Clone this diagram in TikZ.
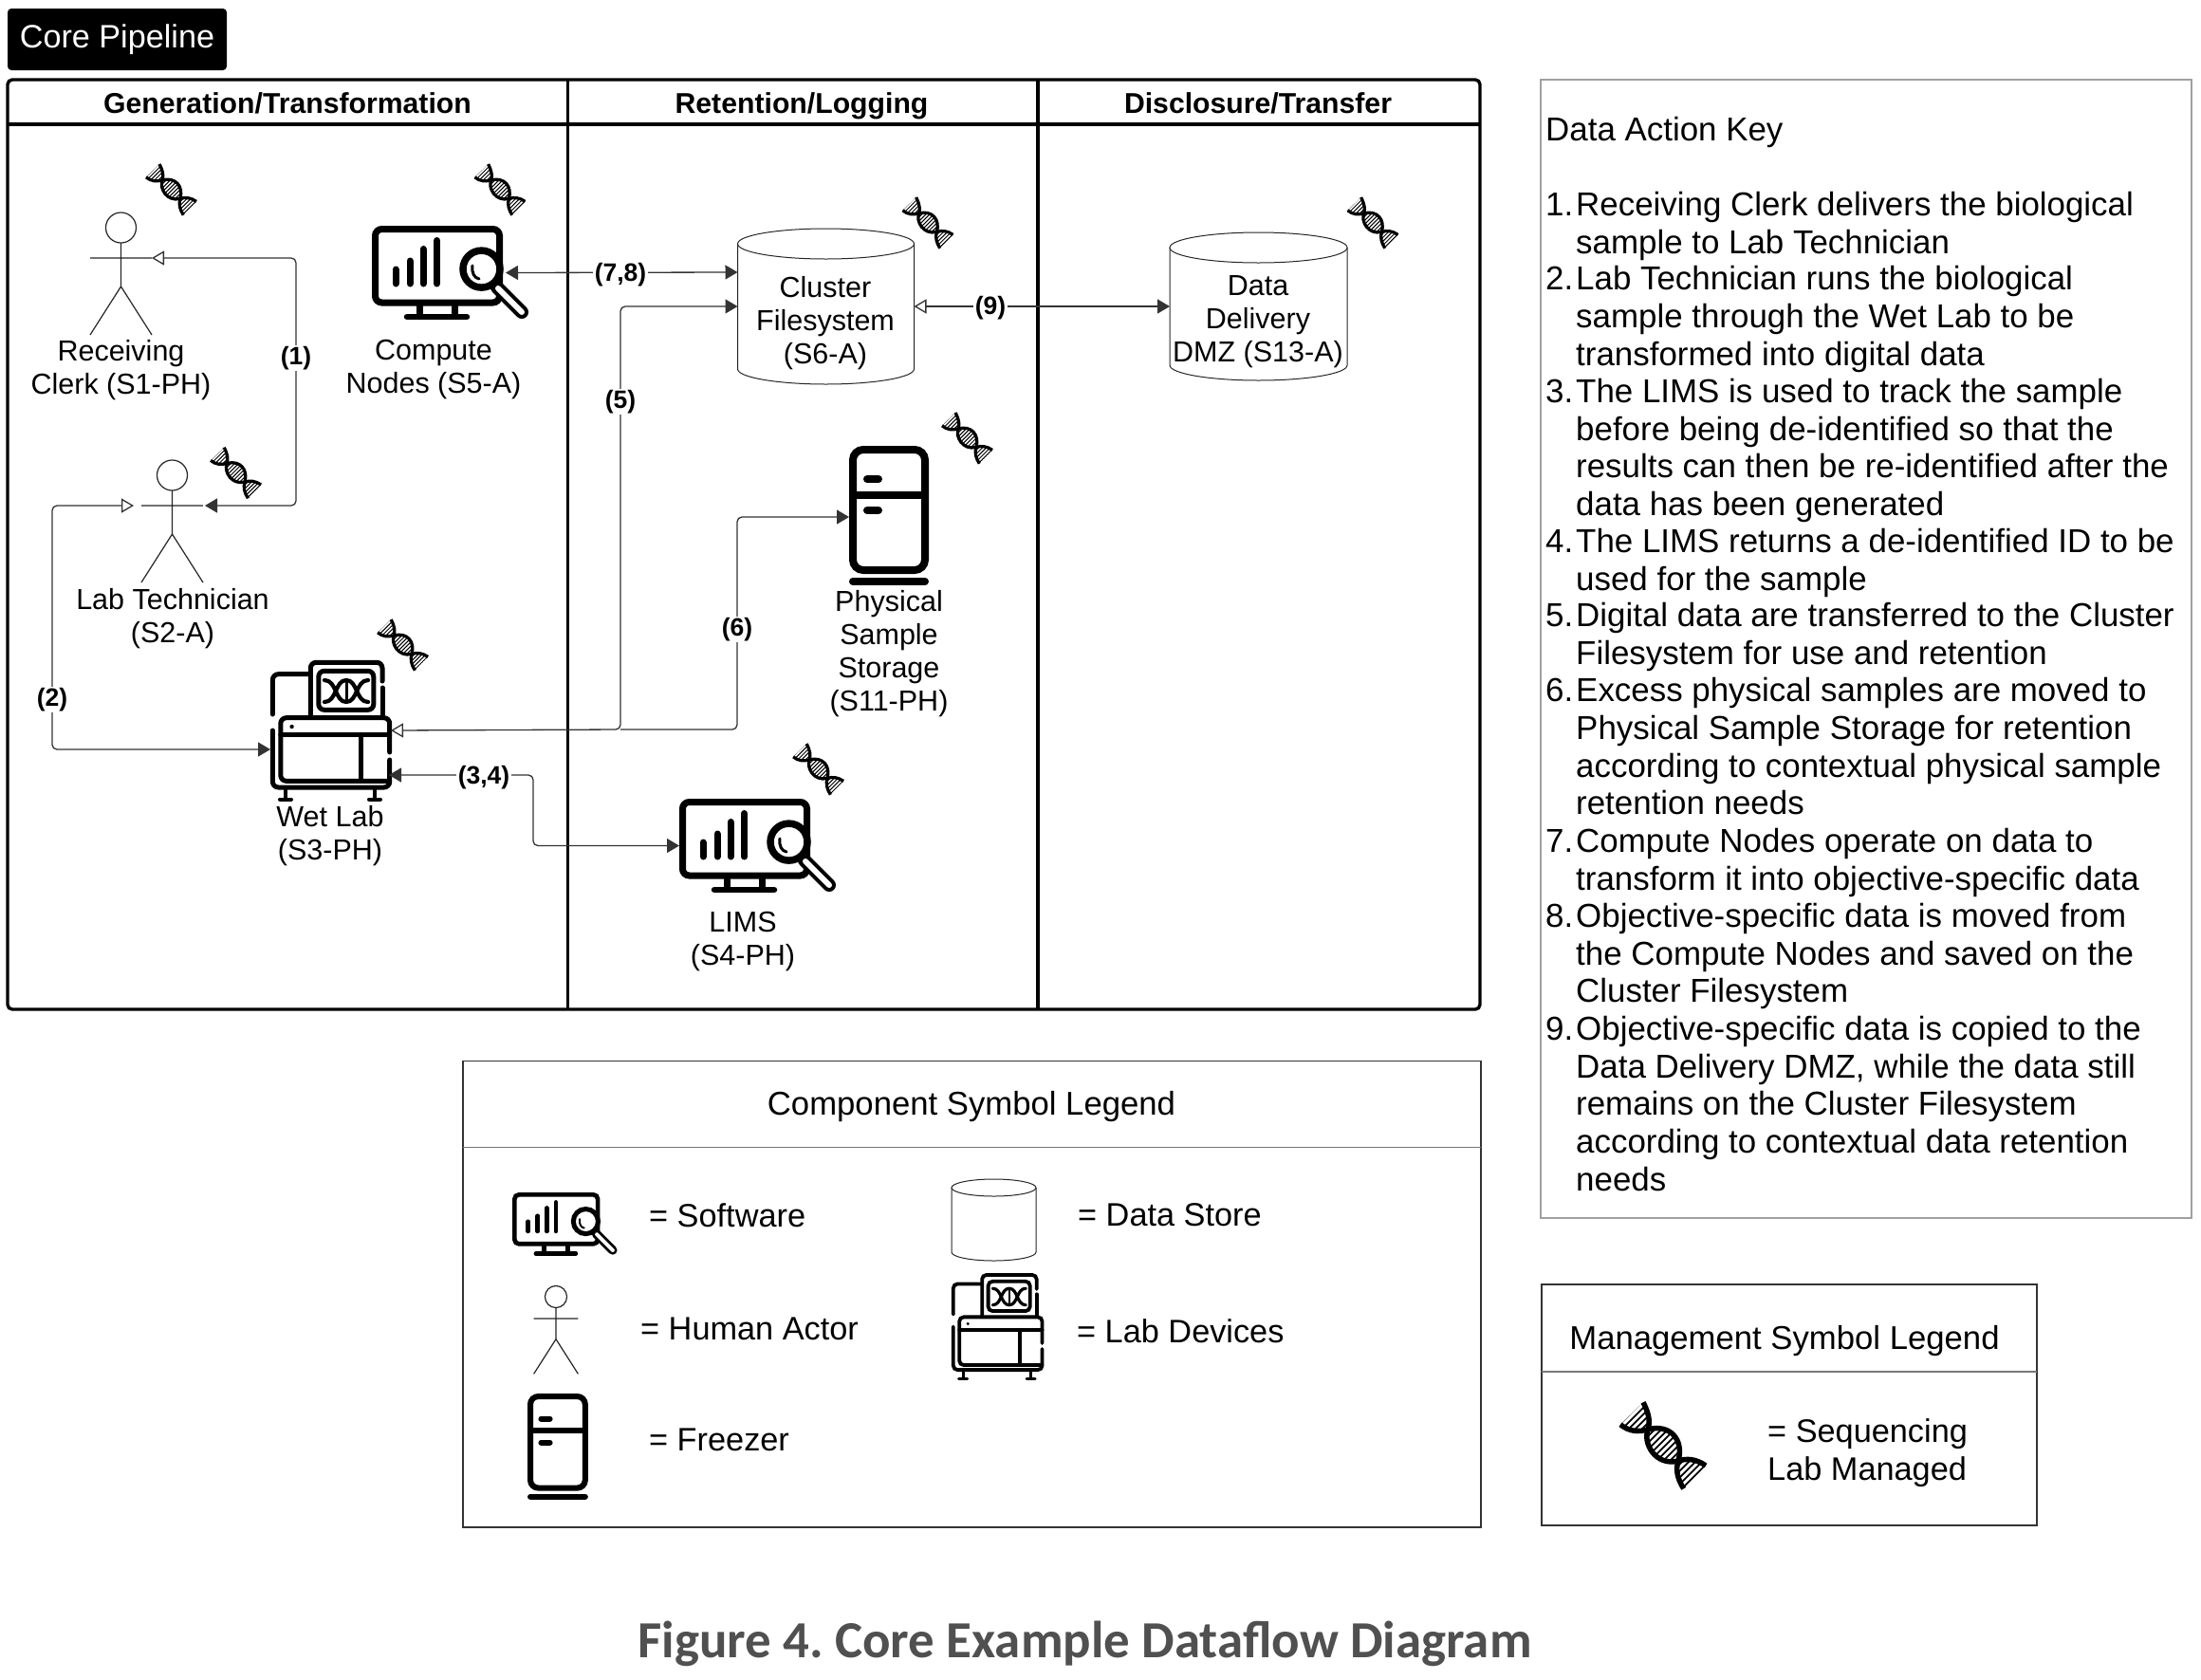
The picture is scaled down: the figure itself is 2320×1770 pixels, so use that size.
\documentclass[tikz,border=0pt]{standalone}
\usepackage{fontspec}
\setmainfont{Liberation Sans}
\newfontfamily\figfont{Carlito}
\usetikzlibrary{arrows.meta,calc}
\definecolor{flowline}{HTML}{333333}
\definecolor{legline}{HTML}{333333}
\definecolor{legsep}{HTML}{777777}
\definecolor{keyline}{HTML}{A0A0A0}
\definecolor{figgray}{HTML}{505050}
\tikzset{
  lbl/.style={align=center,inner sep=0pt,font=\fontsize{30.5}{35}\selectfont},
  flowlbl/.style={fill=white,inner sep=1.5pt,font=\fontsize{26.5}{30}\bfseries\selectfont},
  lanehead/.style={anchor=base,inner sep=0pt,font=\fontsize{30.2}{36}\bfseries\selectfont},
  legtext/.style={anchor=west,align=left,inner sep=0pt,font=\fontsize{34.3}{40}\selectfont},
  legtitle/.style={inner sep=0pt,font=\fontsize{34.7}{40}\selectfont},
  keytext/.style={anchor=north west,align=left,inner sep=0pt,font=\fontsize{34.9}{39.65}\selectfont},
  iconbox/.style={inner sep=0pt,outer sep=0pt},
  flow/.style={draw=flowline,line width=1.3pt,rounded corners=5pt},
  tipf/.tip={Triangle[length=13pt,width=15pt]},
  tipo/.tip={Triangle[open,fill=white,length=13pt,width=15pt]},
}
% top-left x, y, scale
\newcommand\monitoricon[3]{%
\begin{scope}[shift={(#1,#2)},scale=#3]
 \draw[line width=#3*7pt,rounded corners=#3*7pt] (3.5,3.5) rectangle (134.5,81);
 \foreach \bx/\by in {25/46,40/37,54/24.5,68.6/15.5}{\draw[line width=#3*7pt,line cap=round] (\bx,\by) -- (\bx,61);}
 \draw[line width=#3*7pt] (50,81) -- (50,95) (87,81) -- (87,95);
 \draw[line width=#3*6.5pt,line cap=round] (37,96) -- (100,96);
 \draw[line width=#3*14pt,line cap=round] (132,65) -- (158,91);
 \draw[white,line width=#3*6pt,line cap=round] (133,66) -- (158,91);
 \draw[fill=white,line width=#3*7.5pt] (115.5,45.6) circle[radius=19.5];
 \draw[line width=#3*3pt,line cap=round] (106,42) .. controls (105,50) and (108,55) .. (113,56);
\end{scope}}
\newcommand\fridgeicon[3]{%
\begin{scope}[shift={(#1,#2)},scale=#3]
 \draw[line width=#3*8pt,rounded corners=#3*11pt] (4,4) rectangle (80,131);
 \draw[line width=#3*8pt] (4,51.5) -- (80,51.5);
 \draw[line width=#3*8pt,line cap=round] (19,35) -- (31,35) (19,68) -- (31,68);
 \draw[line width=#3*8pt,line cap=round] (4,143) -- (80,143);
\end{scope}}
\newcommand\wetlabicon[3]{%
\begin{scope}[shift={(#1,#2)},scale=#3,line cap=round]
 \begin{scope}[line width=#3*5pt,rounded corners=#3*6pt]
 \draw (42.3,13.7) -- (2.4,13.7) -- (2.4,56);
 \draw (2.4,73) -- (2.4,133) -- (125.7,133) -- (125.7,104);
 \draw (125.7,96) -- (125.7,59.7) -- (10.8,59.7) -- (10.8,126.3) -- (125.7,126.3);
 \draw (42.3,58) -- (42.3,1.3) -- (118,1.3) -- (118,21);
 \draw (118,28) -- (118,58);
 \draw (50.8,10.3) rectangle (108.8,51.3);
 \end{scope}
 \draw[line width=#3*5pt] (10.8,77.3) -- (125.7,77.3) (95,77.3) -- (95,126.3);
 \fill (22.6,69) circle[radius=2.2];
 \draw[line width=#3*4pt] (16,133) -- (16,145) (110,133) -- (110,145);
 \draw[line width=#3*4pt] (10,145.5) -- (22,145.5) (104,145.5) -- (116,145.5);
 \draw[line width=#3*4.2pt] (57,43) .. controls (70,43) and (68,20) .. (80,20) .. controls (92,20) and (90,43) .. (103,43);
 \draw[line width=#3*4.2pt] (57,20) .. controls (70,20) and (68,43) .. (80,43) .. controls (92,43) and (90,20) .. (103,20);
 \draw[line width=#3*3pt] (80,21) -- (80,42);
\end{scope}}
% centre x, y, scale
\newcommand\dnaicon[3]{%
\begin{scope}[shift={(#1,#2)},scale=#3]
 \foreach \lobe in {1,2,3}{%
 \begin{scope}
  \ifnum\lobe=1 \clip (-21,-45.7) .. controls (-14,-32) and (-14,-25) .. (-15.7,-17.3) .. controls (-26,-14) and (-36,-15) .. (-45,-22.3) -- cycle;\fi
  \ifnum\lobe=2 \clip (-15.7,-17.3) .. controls (-22,-3) and (-8,22) .. (16,16) .. controls (22,-6) and (8,-23) .. (-15.7,-17.3);\fi
  \ifnum\lobe=3 \clip (16,16) .. controls (25,13) and (35,14) .. (45,21) -- (21.7,45.3) .. controls (15,35) and (13,25) .. (16,16);\fi
  \foreach \t in {-68,-61,...,68}{\draw[line width=#3*1.7pt] ({\t/2-40},{\t/2+40}) -- ({\t/2+40},{\t/2-40});}
 \end{scope}}
 \draw[line width=#3*5.5pt] (-21,-45.7) .. controls (-14,-32) and (-14,-25) .. (-15.7,-17.3) .. controls (-22,-3) and (-8,22) .. (16,16) .. controls (25,13) and (35,14) .. (45,21);
 \draw[line width=#3*5.5pt] (-45,-22.3) .. controls (-36,-15) and (-26,-14) .. (-15.7,-17.3) .. controls (8,-23) and (22,-6) .. (16,16) .. controls (13,25) and (15,35) .. (21.7,45.3);
\end{scope}}
% head-centre x, head-centre y, scale
\newcommand\actoricon[3]{%
\begin{scope}[shift={(#1,#2)},scale=#3,line width=1.2pt,draw=black!85]
 \draw (0,0) circle[radius=16];
 \draw (0,16) -- (0,62) (-32.5,32) -- (32.5,32) (-32.5,113) -- (0,62) -- (32.5,113);
\end{scope}}
% left, top, width, height, ry
\newcommand\cylindericon[5]{%
\begin{scope}[shift={(#1,#2)},line width=1pt,draw=black!85]
 \pgfmathsetmacro\hw{#3/2}
 \draw[fill=white] (0,#5) -- (0,#4-#5) .. controls (0,{#4-#5*0.45}) and ({\hw*0.45},#4) .. (\hw,#4)
   .. controls ({#3-\hw*0.45},#4) and (#3,{#4-#5*0.45}) .. (#3,#4-#5) -- (#3,#5);
 \draw[fill=white] (\hw,#5) ellipse[x radius=\hw,y radius=#5];
\end{scope}}
\frenchspacing
\begin{document}
\begin{tikzpicture}[x=1pt,y=-1pt]
\useasboundingbox (0,0) rectangle (2320,1770);
\fill[white] (0,0) rectangle (2320,1770);

% banner
\node[fill=black,text=white,rounded corners=4pt,minimum width=231pt,minimum height=65pt,inner sep=0pt,font=\fontsize{34.2}{40}\selectfont] (banner) at (123.5,41.5) {\raisebox{-3pt}{Core Pipeline}};

% swimlanes
\draw[line width=3.4pt,rounded corners=5pt] (8,84) rectangle (1560,1064);
\draw[line width=3.4pt] (8,131) -- (1560,131) (598.5,84) -- (598.5,1064) (1094,84) -- (1094,1064);
\node[lanehead] (laneA) at (303,119) {Generation/Transformation};
\node[lanehead] (laneB) at (845,119) {Retention/Logging};
\node[lanehead] (laneC) at (1326,119) {Disclosure/Transfer};

% icons
\actoricon{127.5}{240}{1}
\actoricon{181.5}{501}{1}
\monitoricon{392}{238}{1}
\monitoricon{716}{842}{1}
\wetlabicon{285}{697}{1}
\fridgeicon{895}{470}{1}
\cylindericon{777.5}{241}{186}{164}{16}
\cylindericon{1233}{245}{187}{156}{16}
\foreach \dx/\dy in {180.5/200,527/200,248.6/498.6,424.6/680,862.6/811,978/235,1019.5/462,1447/235}{\dnaicon{\dx}{\dy}{0.59}}

% named boxes round the icons
\node[iconbox,minimum width=65pt,minimum height=129pt] (clerk) at (127.5,288.5) {};
\node[iconbox,minimum width=65pt,minimum height=129pt] (tech) at (181.5,549.5) {};
\node[iconbox,minimum width=165pt,minimum height=99pt] (compute) at (474.5,287.5) {};
\node[iconbox,minimum width=166pt,minimum height=99pt] (lims) at (799,891.5) {};
\node[iconbox,minimum width=127pt,minimum height=146pt] (wetlab) at (348.5,770) {};
\node[iconbox,minimum width=84pt,minimum height=147pt] (fridge) at (937,543.5) {};
\node[iconbox,minimum width=186pt,minimum height=164pt] (cluster) at (870.5,323) {};
\node[iconbox,minimum width=187pt,minimum height=156pt] (dmz) at (1326.5,323) {};
\coordinate (j1) at (312,272);
\coordinate (j2) at (312,533);
\coordinate (j3) at (55,533);
\coordinate (j4) at (55,790);
\coordinate (j5) at (654,769);
\coordinate (j6) at (654,323);
\coordinate (j7) at (777,769);
\coordinate (j8) at (777,545);
\coordinate (j9) at (562,817);
\coordinate (j10) at (562,891.5);

% connectors
\draw[flow,tipo-tipf] ([yshift=16.5pt]clerk.east) -- (j1) -- (j2) -- ([yshift=16.5pt,xshift=2pt]tech.east);
\draw[flow,tipo-tipf] ([yshift=16.5pt,xshift=-8pt]tech.west) -- (j3) -- (j4) -- ([yshift=-20pt]wetlab.west);
\draw[flow,tipo-tipf] (wetlab.east) -- (j5) -- (j6) -- (cluster.west);
\draw[flow,-tipf] (j5) -- (j7) -- (j8) -- ([yshift=-1.5pt]fridge.west);
\draw[flow,tipf-tipf] ([yshift=-47pt,xshift=-2pt]wetlab.east) -- (j9) -- (j10) -- (lims.west);
\draw[flow,tipf-tipf] ([xshift=-24pt]compute.east) -- ([yshift=36pt]cluster.west);
\draw[flow,tipo-tipf] (cluster.east) -- (dmz.west);

% connector labels
\node[flowlbl] (f1) at (312,377.5) {(1)};
\node[flowlbl] (f2) at (55,737.5) {(2)};
\node[flowlbl] (f34) at (510,820) {(3,4)};
\node[flowlbl] (f5) at (654,423.5) {(5)};
\node[flowlbl] (f6) at (777,663.5) {(6)};
\node[flowlbl] (f78) at (654,289.5) {(7,8)};
\node[flowlbl] (f9) at (1044,324.5) {(9)};

% component labels
\node[lbl] (tclerk) at (127.5,390) {Receiving\\Clerk (S1-PH)};
\node[lbl] (tcompute) at (457,389) {Compute\\Nodes (S5-A)};
\node[lbl] (ttech) at (182,652) {Lab Technician\\(S2-A)};
\node[lbl] (twet) at (348,881) {Wet Lab\\(S3-PH)};
\node[lbl] (tlims) at (783,992) {LIMS\\(S4-PH)};
\node[lbl] (tfridge) at (937,689) {Physical\\Sample\\Storage\\(S11-PH)};
\node[lbl] (tcluster) at (870,341) {Cluster\\Filesystem\\(S6-A)};
\node[lbl] (tdmz) at (1326,339.5) {Data\\Delivery\\DMZ (S13-A)};

% key
\draw[keyline,line width=1.2pt] (1624,84) rectangle (2310,1284);
\node[keytext] (ktitle) at (1629,121) {\strut Data Action Key};
\foreach \n/\yy/\tx in {
 1/199.5/{Receiving Clerk delivers the biological\\sample to Lab Technician},
 2/278/{Lab Technician runs the biological\\sample through the Wet Lab to be\\transformed into digital data},
 3/396.5/{The LIMS is used to track the sample\\before being de-identified so that the\\results can then be re-identified after the\\data has been generated},
 4/554.5/{The LIMS returns a de-identified ID to be\\used for the sample},
 5/633/{Digital data are transferred to the Cluster\\Filesystem for use and retention},
 6/712/{Excess physical samples are moved to\\Physical Sample Storage for retention\\according to contextual physical sample\\retention needs},
 7/870.5/{Compute Nodes operate on data to\\transform it into objective-specific data},
 8/949.5/{Objective-specific data is moved from\\the Compute Nodes and saved on the\\Cluster Filesystem},
 9/1068.5/{Objective-specific data is copied to the\\Data Delivery DMZ, while the data still\\remains on the Cluster Filesystem\\according to contextual data retention\\needs}}{
 \node[keytext] (kn\n) at (1629,\yy) {\strut\n.};
 \node[keytext] (kt\n) at (1661,\yy) {\strut\tx};
}

% component legend
\draw[legline,line width=1.3pt] (488,1118.5) rectangle (1561,1610);
\draw[legsep,line width=1.3pt] (488,1209.5) -- (1561,1209.5);
\node[legtitle] (ltitle) at (1024,1166.5) {Component Symbol Legend};
\monitoricon{540}{1257}{0.67}
\actoricon{586}{1367}{0.72}
\fridgeicon{556}{1469}{0.76}
\cylindericon{1003}{1243}{89}{86}{9}
\wetlabicon{1003}{1343}{0.76}
\node[legtext] (l1) at (684,1281) {= Software};
\node[legtext] (l2) at (675,1401) {= Human Actor};
\node[legtext] (l3) at (684,1518) {= Freezer};
\node[legtext] (l4) at (1136,1281) {= Data Store};
\node[legtext] (l5) at (1135,1403) {= Lab Devices};

% management legend
\draw[legline,line width=1.3pt] (1625,1354) rectangle (2147,1608);
\draw[legsep,line width=1.3pt] (1625,1446) -- (2147,1446);
\node[legtitle] (mtitle) at (1881,1413.5) {Management Symbol Legend};
\dnaicon{1753}{1524}{1}
\node[legtext] (m1) at (1863,1532) {= Sequencing\\Lab Managed};

% caption
\node[inner sep=0pt,text=figgray,font=\figfont\fontsize{54.9}{60}\bfseries\selectfont] (caption) at (1143.5,1733) {Figure 4. Core Example Dataflow Diagram};
\end{tikzpicture}
\end{document}
